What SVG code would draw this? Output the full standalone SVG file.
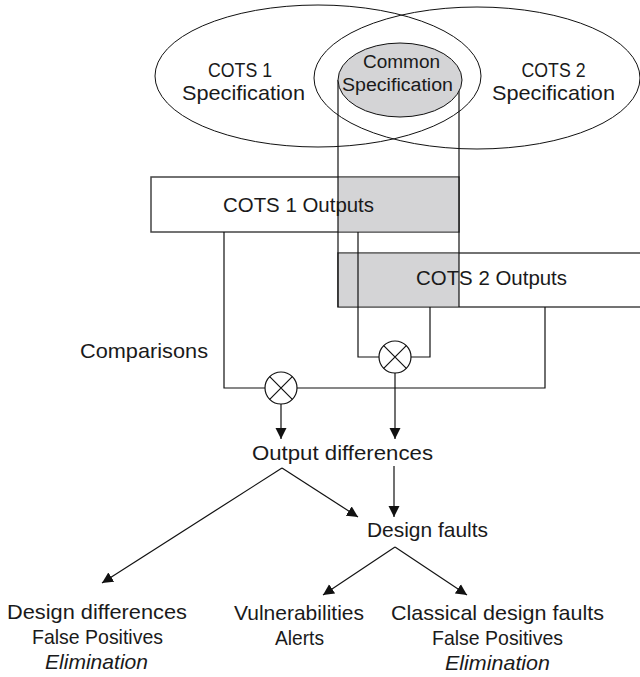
<svg xmlns="http://www.w3.org/2000/svg" width="640" height="677" viewBox="0 0 640 677">
  <style>
    text { font-family: "Liberation Sans", Arial, sans-serif; font-size: 21px; fill: #1a1a1a; text-anchor: middle; }
    .small { font-size: 18px; }
    .it { font-style: italic; }
    .ln { fill: none; stroke: #111; stroke-width: 1.2; }
    .box { fill: #fff; stroke: #444; stroke-width: 1.5; }
    .shade { fill: #d4d4d6; stroke: none; }
    .spec { fill: none; stroke: #111; stroke-width: 1; }
    .cmp { fill: #fff; stroke: #111; stroke-width: 1.2; }
  </style>
  <defs>
    <marker id="arr" markerUnits="userSpaceOnUse" markerWidth="12" markerHeight="12" viewBox="0 0 12 12" refX="11" refY="6" orient="auto">
      <path d="M0,0.5 L11,6 L0,11.5 Z" fill="#111"/>
    </marker>
  </defs>
  <rect width="640" height="677" fill="#fff"/>

  <!-- output boxes with the shared column shaded -->
  <g id="cots1-outputs">
    <rect class="box" x="151" y="177" width="308" height="55"/>
    <rect class="shade" x="338" y="177.8" width="120.3" height="53.5"/>
  </g>
  <g id="cots2-outputs">
    <rect class="box" x="338" y="253" width="310" height="54"/>
    <rect class="shade" x="338.8" y="253.8" width="120.2" height="52.4"/>
  </g>

  <!-- common column edges dropping from the shared specification -->
  <g id="common-column">
    <line class="ln" x1="338" y1="80" x2="338" y2="307"/>
    <line class="ln" x1="459" y1="80" x2="459" y2="307"/>
  </g>

  <g id="common-spec">
    <ellipse cx="400" cy="80" rx="62" ry="37" fill="#d4d4d6" stroke="#111" stroke-width="1"/>
  </g>
  <g id="cots1-spec">
    <ellipse class="spec" cx="318" cy="76" rx="163" ry="71"/>
  </g>
  <g id="cots2-spec">
    <ellipse class="spec" cx="477" cy="78" rx="163" ry="71"/>
  </g>

  <!-- connectors -->
  <g id="connectors">
    <polyline class="ln" points="224,232 224,388 265,388"/>
    <polyline class="ln" points="297,388 545,388 545,307"/>
    <polyline class="ln" points="358,232 358,357 379,357"/>
    <polyline class="ln" points="411,357 430,357 430,307"/>
    <line class="ln" x1="395" y1="373" x2="395" y2="439" marker-end="url(#arr)"/>
    <line class="ln" x1="281" y1="404" x2="281" y2="439" marker-end="url(#arr)"/>
    <line class="ln" x1="394" y1="466" x2="394" y2="517" marker-end="url(#arr)"/>
    <line class="ln" x1="282" y1="468" x2="358" y2="517" marker-end="url(#arr)"/>
    <line class="ln" x1="282" y1="468" x2="102" y2="583" marker-end="url(#arr)"/>
    <line class="ln" x1="395" y1="547" x2="323" y2="595" marker-end="url(#arr)"/>
    <line class="ln" x1="395" y1="547" x2="467" y2="595" marker-end="url(#arr)"/>
  </g>

  <!-- comparison operators -->
  <g id="compare-1">
    <circle class="cmp" cx="281" cy="388" r="16"/>
    <path class="ln" d="M269.7,376.7 L292.3,399.3 M292.3,376.7 L269.7,399.3"/>
  </g>
  <g id="compare-2">
    <circle class="cmp" cx="395" cy="357" r="16"/>
    <path class="ln" d="M383.7,345.7 L406.3,368.3 M406.3,345.7 L383.7,368.3"/>
  </g>

  <!-- labels -->
  <g id="cots1-spec-label">
    <text x="240" y="77" textLength="64" lengthAdjust="spacingAndGlyphs">COTS 1</text>
    <text x="243.5" y="100" textLength="123" lengthAdjust="spacingAndGlyphs">Specification</text>
  </g>
  <g id="cots2-spec-label">
    <text x="553.5" y="77" textLength="64" lengthAdjust="spacingAndGlyphs">COTS 2</text>
    <text x="553.5" y="100" textLength="123" lengthAdjust="spacingAndGlyphs">Specification</text>
  </g>
  <g id="common-spec-label">
    <text class="small" x="401.5" y="68" textLength="77" lengthAdjust="spacingAndGlyphs">Common</text>
    <text class="small" x="397.5" y="91" textLength="111" lengthAdjust="spacingAndGlyphs">Specification</text>
  </g>
  <g id="cots1-outputs-label">
    <text x="298.5" y="212" textLength="151" lengthAdjust="spacingAndGlyphs">COTS 1 Outputs</text>
  </g>
  <g id="cots2-outputs-label">
    <text x="491.5" y="285" textLength="151" lengthAdjust="spacingAndGlyphs">COTS 2 Outputs</text>
  </g>
  <g id="comparisons">
    <text x="144" y="358" textLength="128" lengthAdjust="spacingAndGlyphs">Comparisons</text>
  </g>
  <g id="output-differences">
    <text x="342.5" y="460" textLength="181" lengthAdjust="spacingAndGlyphs">Output differences</text>
  </g>
  <g id="design-faults">
    <text x="427.5" y="537" textLength="121" lengthAdjust="spacingAndGlyphs">Design faults</text>
  </g>
  <g id="design-differences">
    <text x="97" y="619" textLength="180" lengthAdjust="spacingAndGlyphs">Design differences</text>
    <text x="97.5" y="644" textLength="131" lengthAdjust="spacingAndGlyphs">False Positives</text>
    <text class="it" x="96.5" y="669" textLength="103" lengthAdjust="spacingAndGlyphs">Elimination</text>
  </g>
  <g id="vulnerabilities">
    <text x="299" y="620" textLength="130" lengthAdjust="spacingAndGlyphs">Vulnerabilities</text>
    <text x="299.5" y="645" textLength="49" lengthAdjust="spacingAndGlyphs">Alerts</text>
  </g>
  <g id="classical-faults">
    <text x="497.5" y="620" textLength="213" lengthAdjust="spacingAndGlyphs">Classical design faults</text>
    <text x="497.5" y="645" textLength="131" lengthAdjust="spacingAndGlyphs">False Positives</text>
    <text class="it" x="497.5" y="670" textLength="105" lengthAdjust="spacingAndGlyphs">Elimination</text>
  </g>
</svg>
